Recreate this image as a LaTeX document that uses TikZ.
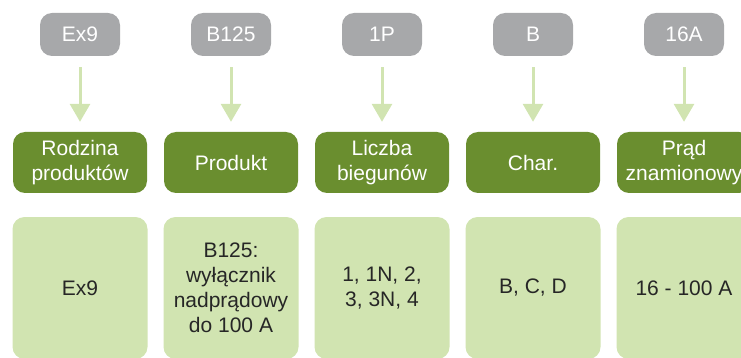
\documentclass[tikz,border=0pt]{standalone}
\usepackage{fontspec}
\setmainfont{Liberation Sans}
\usetikzlibrary{arrows.meta}
\definecolor{codegray}{HTML}{A7A8AA}
\definecolor{fieldgreen}{HTML}{6A8E2F}
\definecolor{palegreen}{HTML}{D1E4B1}
\tikzset{
	codebox/.style={fill=codegray, text=white, rounded corners=12pt, minimum width=80pt, minimum height=43pt, inner sep=0pt, font=\fontsize{21}{25}\selectfont},
	fieldbox/.style={fill=fieldgreen, text=white, rounded corners=12pt, minimum width=134pt, minimum height=61pt, inner sep=0pt, align=center, font=\fontsize{21}{25}\selectfont},
	valuebox/.style={fill=palegreen, text=black!85, rounded corners=12pt, minimum width=135pt, minimum height=142pt, inner sep=0pt, align=center, font=\fontsize{21}{25}\selectfont},
	codearrow/.style={draw=palegreen, line width=3pt, -{Triangle[width=20pt,length=18pt]}, shorten <=11pt, shorten >=10pt}
}

\begin{document}
\begin{tikzpicture}[x=1pt, y=-1pt]
			%%%%% START %%%%%
			\useasboundingbox (0, 0) rectangle (741, 358);
			\clip (0, 0) rectangle (741, 358);
			
			% code parts
			\node[codebox] (ex) at (80, 34.5) {Ex9};
			\node[codebox] (prod) at (231, 34.5) {B125};
			\node[codebox] (pole) at (382, 34.5) {1P};
			\node[codebox] (char) at (533, 34.5) {B};
			\node[codebox] (amp) at (684, 34.5) {16A};
			
			% field names
			\node[fieldbox] (exname) at (80, 162.5) {Rodzina\\produktów};
			\node[fieldbox] (prodname) at (231, 162.5) {Produkt};
			\node[fieldbox] (polename) at (382, 162.5) {Liczba\\biegunów};
			\node[fieldbox] (charname) at (533, 162.5) {Char.};
			\node[fieldbox] (ampname) at (684, 162.5) {Prąd\\znamionowy};
			
			% values
			\node[valuebox] (exval) at (80, 288) {Ex9};
			\node[valuebox] (prodval) at (231, 288) {B125:\\wyłącznik\\nadprądowy\\do 100 A};
			\node[valuebox] (poleval) at (382, 288) {1, 1N, 2,\\3, 3N, 4};
			\node[valuebox] (charval) at (533, 288) {B, C, D};
			\node[valuebox] (ampval) at (684, 288) {16 - 100 A};
			
			\draw[codearrow] (ex) -- (exname);
			\draw[codearrow] (prod) -- (prodname);
			\draw[codearrow] (pole) -- (polename);
			\draw[codearrow] (char) -- (charname);
			\draw[codearrow] (amp) -- (ampname);
			
			%%%%% END %%%%%
\end{tikzpicture}
\end{document}
